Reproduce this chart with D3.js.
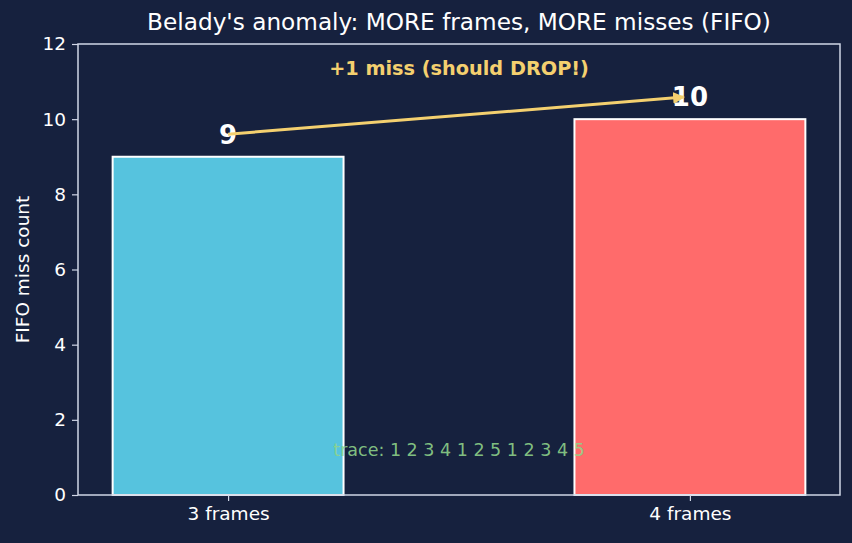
<!DOCTYPE html>
<html>
<head>
<meta charset="utf-8">
<script src="https://cdn.jsdelivr.net/npm/d3@7"></script>
<style>
  body { margin: 0; background: #16213e; }
  svg { display: block; font-family: "DejaVu Sans", sans-serif; }
</style>
</head>
<body>
<div id="chart"></div>
<script>
const categories = ["3 frames", "4 frames"];
const misses = [9, 10];
const barColors = ["#56c3de", "#ff6b6b"];
const yTicks = [0, 2, 4, 6, 8, 10, 12];
const traceText = "trace: 1 2 3 4 1 2 5 1 2 3 4 5";
const noteText = "+1 miss (should DROP!)";

const width = 852, height = 543,
    margin = {top: 44, bottom: 48, left: 78, right: 12},
    fg = "#ffffff", spine = "#cfd6e6", yellow = "#f4d06f";

const svg = d3.select("#chart").append("svg")
    .attr("width", width)
    .attr("height", height);

svg.append("rect").attr("width", width).attr("height", height).attr("fill", "#16213e");

const x = d3.scaleLinear()
    .domain([-0.325, 1.325])
    .range([margin.left, width - margin.right]);

const y = d3.scaleLinear()
    .domain([0, 12])
    .range([height - margin.bottom, margin.top]);

const barW = x(0.5) - x(0);

// bars
svg.selectAll("rect.bar")
    .data(misses)
    .join("rect")
    .attr("class", "bar")
    .attr("x", (d, i) => x(i) - barW / 2)
    .attr("y", d => y(d))
    .attr("width", barW)
    .attr("height", d => y(0) - y(d))
    .attr("fill", (d, i) => barColors[i])
    .attr("stroke", "#ffffff")
    .attr("stroke-width", 2);

// axes
const xAxis = d3.axisBottom(x).tickValues([0, 1]).tickFormat(i => categories[i]).tickSize(6).tickPadding(6);
const yAxis = d3.axisLeft(y).tickValues(yTicks).tickSize(6).tickPadding(6);

const gx = svg.append("g")
    .attr("transform", `translate(0, ${y(0)})`)
    .call(xAxis);
const gy = svg.append("g")
    .attr("transform", `translate(${margin.left}, 0)`)
    .call(yAxis);

[gx, gy].forEach(g => {
    g.select(".domain").remove();
    g.selectAll("line").attr("stroke", spine).attr("stroke-width", 1.2);
    g.selectAll("text").attr("fill", fg).attr("font-size", 18.5).attr("font-family", "DejaVu Sans");
});

// spines box
svg.append("rect")
    .attr("x", margin.left)
    .attr("y", margin.top)
    .attr("width", width - margin.left - margin.right)
    .attr("height", height - margin.top - margin.bottom)
    .attr("fill", "none")
    .attr("stroke", spine)
    .attr("stroke-width", 1.5);

// trace text
svg.append("text")
    .attr("x", x(0.5))
    .attr("y", y(1.2))
    .attr("dy", "0.36em")
    .attr("text-anchor", "middle")
    .attr("fill", "#8fd48a")
    .attr("fill-opacity", 0.9)
    .attr("font-size", 17.5)
    .text(traceText);

// value labels
svg.selectAll("text.val")
    .data(misses)
    .join("text")
    .attr("class", "val")
    .attr("x", (d, i) => x(i))
    .attr("y", d => y(d + 0.6))
    .attr("dy", "0.36em")
    .attr("text-anchor", "middle")
    .attr("fill", fg)
    .attr("font-weight", "bold")
    .attr("font-size", 26)
    .text(d => d);

// arrow
const defs = svg.append("defs");
defs.append("marker")
    .attr("id", "head")
    .attr("viewBox", "0 0 10 10")
    .attr("refX", 9).attr("refY", 5)
    .attr("markerWidth", 4).attr("markerHeight", 4)
    .attr("markerUnits", "strokeWidth")
    .attr("orient", "auto")
    .append("path")
    .attr("d", "M0,0 L10,5 L0,10 z")
    .attr("fill", yellow);

svg.append("line")
    .attr("x1", x(0)).attr("y1", y(misses[0] + 0.6))
    .attr("x2", x(1) - 6).attr("y2", y(misses[1] + 0.6) + 0.5)
    .attr("stroke", yellow)
    .attr("stroke-width", 3)
    .attr("marker-end", "url(#head)");

svg.append("text")
    .attr("x", x(0.5))
    .attr("y", y(11.35))
    .attr("dy", "0.36em")
    .attr("text-anchor", "middle")
    .attr("fill", yellow)
    .attr("font-weight", "bold")
    .attr("font-size", 19.3)
    .text(noteText);

// title
svg.append("text")
    .attr("x", x(0.5))
    .attr("y", 22)
    .attr("dy", "0.36em")
    .attr("text-anchor", "middle")
    .attr("fill", fg)
    .attr("font-size", 23.2)
    .text("Belady's anomaly: MORE frames, MORE misses (FIFO)");

// y label
svg.append("text")
    .attr("transform", `translate(22, ${(y(0) + y(12)) / 2}) rotate(-90)`)
    .attr("dy", "0.36em")
    .attr("text-anchor", "middle")
    .attr("fill", fg)
    .attr("font-size", 18.5)
    .text("FIFO miss count");
</script>
</body>
</html>
